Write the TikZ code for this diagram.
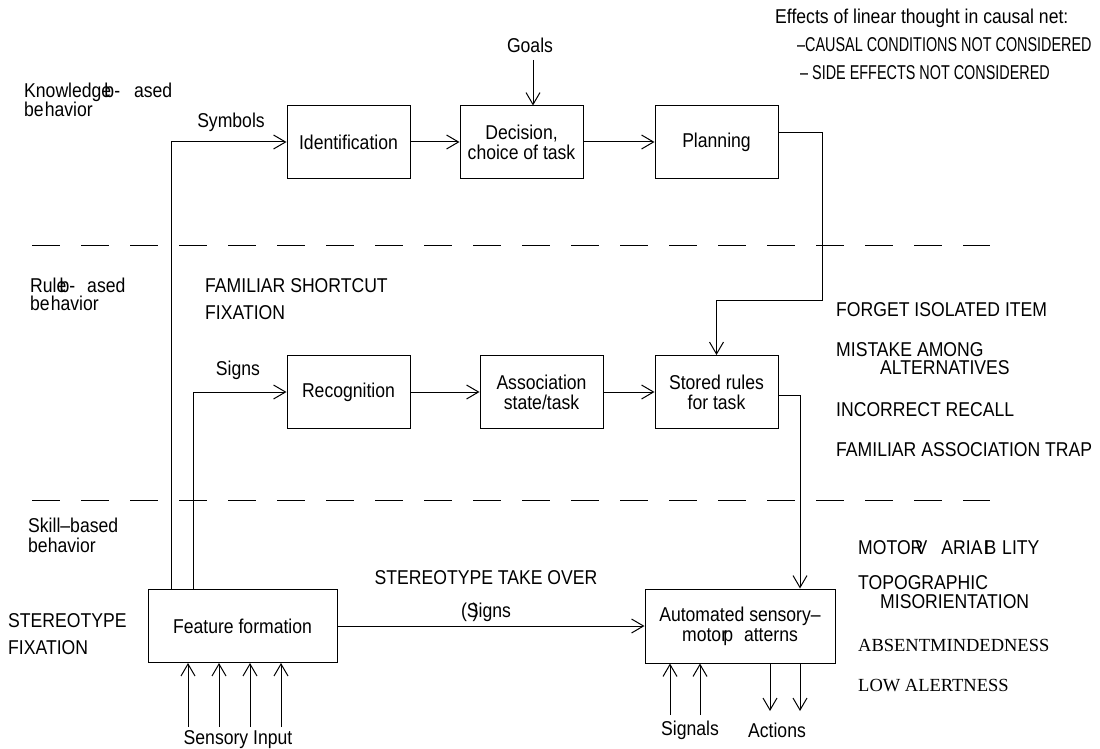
\documentclass[tikz,border=0pt]{standalone}
\usepackage{fontspec}
\setmainfont[FakeStretch=0.88]{Liberation Sans}
\newfontfamily\narrowface[FakeStretch=0.72]{Liberation Sans}
\newfontfamily\romanface{Liberation Serif}
\usetikzlibrary{arrows.meta}

\tikzset{
  lbl/.style={font=\fontsize{20}{17}\selectfont, inner sep=0pt, align=left},
  box/.style={draw, line width=1pt, minimum width=123pt, minimum height=72pt,
              align=center, inner sep=2pt, font=\fontsize{20}{20}\selectfont},
  wire/.style={line width=1pt},
  arr/.style={wire, -{Straight Barb[length=12pt,width=14pt,line width=1pt]}},
  levelsep/.style={line width=1pt, dash pattern=on 28pt off 21pt},
}

\begin{document}
\begin{tikzpicture}[x=1pt,y=-1pt]
\useasboundingbox (0,0) rectangle (1100,749);

% level separators
\draw[levelsep] (32,245) -- (990,245);
\draw[levelsep] (32,500) -- (990,500);

% level titles
\node[lbl, anchor=west] (kb) at (24,100) {Knowledg\rlap{e}\kern0.15em b-\hspace{0.7em}ased\\be\kern0.05em havior};
\node[lbl, anchor=west] (rb) at (30,294) {Rul\rlap{e}\kern0.15em b-\hspace{0.6em}ased\\[1pt]be\kern0.05em havior};
\node[lbl, anchor=west] (sb) at (28,535) {Skill–based\\[3pt]behavior};

% knowledge-based row
\node[box] (ident) at (348.5,142) {Identification};
\node[box] (decision) at (521.5,142) {Decision,\\choice of task};
\node[box] (planning) at (716.5,142) {Planning};
\node[lbl] (goals) at (530,45) {Goals};
\node[lbl] (symbols) at (231,122) {Symbols};

% rule-based row
\node[box, minimum height=73pt] (recog) at (348.5,392) {Recognition};
\node[box, minimum height=73pt] (assoc) at (541.5,392) {Association\\state/task};
\node[box, minimum height=73pt] (stored) at (716.5,392) {Stored rules\\for task};
\node[lbl] (signs) at (238,370) {Signs};

% skill-based row
\node[box, minimum width=189pt, minimum height=73pt] (feature) at (242.5,626) {Feature formation};
\node[box, minimum width=190pt, minimum height=74pt] (auto) at (740,626)
  {Automated sensory–\\moto\rlap{r}\kern0.1em p\hspace{0.55em}atterns};
\node[lbl] (stto) at (486,578) {STEREOTYPE TAKE OVER};
\node[lbl] (signs2) at (486,612) {(S\kern-0.3em )igns};
\node[lbl, anchor=west] (stfix) at (8,634) {STEREOTYPE\\[10pt]FIXATION};

% effects of linear thought
\node[lbl, anchor=west] (eff) at (775,18) {Effects of linear thought in causal net:};
\node[lbl, anchor=west, font=\narrowface\fontsize{20}{17}\selectfont] (eff1) at (797,45) {–CAUSAL CONDITIONS NOT CONSIDERED};
\node[lbl, anchor=west, font=\narrowface\fontsize{20}{17}\selectfont] (eff2) at (800,73) {– SIDE EFFECTS NOT CONSIDERED};

% rule-based error modes
\node[lbl, anchor=west] (fam) at (205,299) {FAMILIAR SHORTCUT\\[10pt]FIXATION};
\node[lbl, anchor=west] (forget) at (836,310) {FORGET ISOLATED ITEM};
\node[lbl, anchor=west] (mist) at (836,350) {MISTAKE AMONG};
\node[lbl, anchor=west] (alt) at (880,368) {ALTERNATIVES};
\node[lbl, anchor=west] (recall) at (836,410) {INCORRECT RECALL};
\node[lbl, anchor=west] (trap) at (836,450) {FAMILIAR ASSOCIATION TRAP};

% skill-based error modes
\node[lbl, anchor=west] (motor) at (858,548)
  {MOTO\rlap{R}\kern0.25em V\hspace{0.7em}ARIA\rlap{\kern0.05em I}\kern0.1em B\hspace{0.3em}LITY};
\node[lbl, anchor=west] (topo) at (858,583) {TOPOGRAPHIC};
\node[lbl, anchor=west] (misor) at (880,602) {MISORIENTATION};
\node[lbl, anchor=west, font=\romanface\fontsize{18.5}{18}\selectfont] (absent) at (858,645) {ABSENTMINDEDNESS};
\node[lbl, anchor=west, font=\romanface\fontsize{18.5}{18}\selectfont] (low) at (858,686) {LOW ALERTNESS};

% bottom labels
\node[lbl] (sens) at (238,740) {Sensory Input};
\node[lbl] (sigs) at (690,730) {Signals};
\node[lbl] (acts) at (777,730) {Actions};

% feeds from feature formation upwards
\draw[arr] ([xshift=24pt]feature.north west) |- (ident.west);
\draw[arr] ([xshift=46pt]feature.north west) |- (recog.west);

% row flows
\draw[arr] (ident) -- (decision);
\draw[arr] (decision) -- (planning);
\draw[arr] (recog) -- (assoc);
\draw[arr] (assoc) -- (stored);
\draw[arr] (feature) -- (auto);

% goals into decision
\coordinate (gtop) at (533,60);
\draw[arr] (gtop) -- (gtop |- decision.north);

% planning down to stored rules
\draw[arr] ([yshift=9pt]planning.east) -- ++(44,0) -- ++(0,167) -| (stored.north);

% stored rules down to automated patterns
\draw[arr] ([yshift=-3pt]stored.east) -| ([xshift=60pt]auto.north);

% sensory inputs
\foreach \x [count=\i] in {188,219,250,281} {
  \coordinate (in\i) at (\x,727);
  \draw[arr] (in\i) -- (in\i |- feature.south);
}

% signals in, actions out
\foreach \x [count=\i] in {670,700} {
  \coordinate (sg\i) at (\x,715);
  \draw[arr] (sg\i) -- (sg\i |- auto.south);
}
\foreach \x [count=\i] in {770,800} {
  \coordinate (ac\i) at (\x,711);
  \draw[arr] (ac\i |- auto.south) -- (ac\i);
}
\end{tikzpicture}
\end{document}
